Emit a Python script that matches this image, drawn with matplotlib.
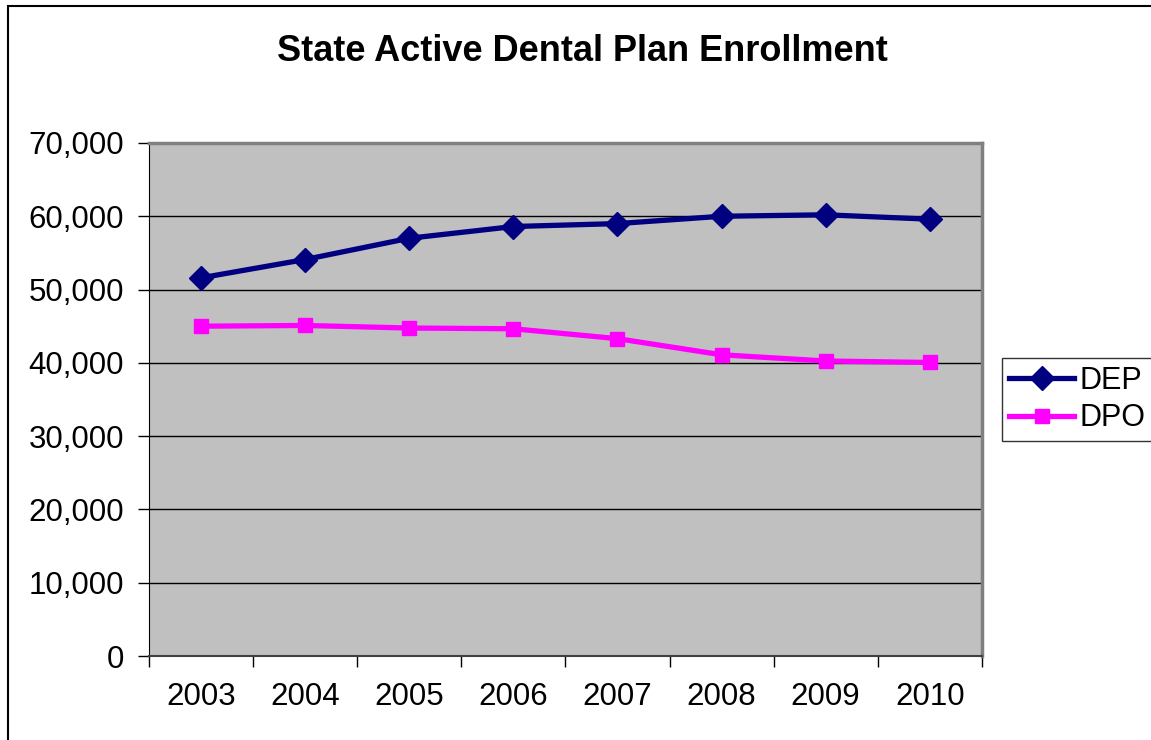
import matplotlib
matplotlib.use("Agg")
import matplotlib.pyplot as plt
from matplotlib.patches import Rectangle
from matplotlib.ticker import FuncFormatter

years = ["2003", "2004", "2005", "2006", "2007", "2008", "2009", "2010"]
dep = [51600, 54100, 57000, 58600, 59000, 60000, 60200, 59600]
dpo = [45000, 45100, 44750, 44650, 43300, 41100, 40250, 40050]

plt.rcParams['font.family'] = ['Liberation Sans', 'DejaVu Sans']

fig = plt.figure(figsize=(11.51, 7.4), dpi=100)
ax = fig.add_axes([0.1295, 0.1135, 0.7235, 0.6933])

# chart frame, cut off on the right and bottom like the screenshot
fig.patches.append(Rectangle((8 / 1151, -0.1), 1.2, 1 - 6 / 740 + 0.1,
                             transform=fig.transFigure, fill=False,
                             edgecolor='black', linewidth=1.5, zorder=0))

ax.set_facecolor('#C0C0C0')
x = [i + 0.5 for i in range(len(years))]
ax.plot(x, dep, color='#000080', linewidth=3.8, marker='D', markersize=12,
        label='DEP', zorder=3)
ax.plot(x, dpo, color='#FF00FF', linewidth=3.8, marker='s', markersize=10,
        label='DPO', zorder=3)

ax.set_xlim(0, len(years))
ax.set_ylim(0, 70000)
ax.set_yticks(range(0, 70001, 10000))
ax.yaxis.set_major_formatter(FuncFormatter(lambda v, p: f"{int(v):,}"))
ax.grid(axis='y', color='black', linewidth=1)
ax.set_axisbelow(True)

ax.set_xticks(range(len(years) + 1))
ax.set_xticklabels([])
ax.set_xticks(x, minor=True)
ax.set_xticklabels(years, minor=True)
ax.tick_params(axis='x', which='minor', length=0, pad=19, labelsize=22.5)
ax.tick_params(axis='x', which='major', length=8, width=1, color='black')
ax.tick_params(axis='y', length=8, width=1, color='black', labelsize=22.5, pad=10)

for s in ['top', 'right']:
    ax.spines[s].set_color('#808080')
    ax.spines[s].set_linewidth(2.5)
ax.spines['left'].set_color('black')
ax.spines['bottom'].set_color('#404040')
ax.spines['bottom'].set_linewidth(1.5)

fig.text(0.506, 0.93, 'State Active Dental Plan Enrollment', ha='center',
         va='center', fontsize=26, fontweight='bold')

leg = ax.legend(loc='center left', bbox_to_anchor=(1.024, 0.5), fontsize=22,
                frameon=True, fancybox=False, edgecolor='black',
                handlelength=2.1, handletextpad=0.2, borderpad=0.25,
                labelspacing=0.25, borderaxespad=0)
leg.get_frame().set_linewidth(1)

fig.savefig('out.png', dpi=100)
